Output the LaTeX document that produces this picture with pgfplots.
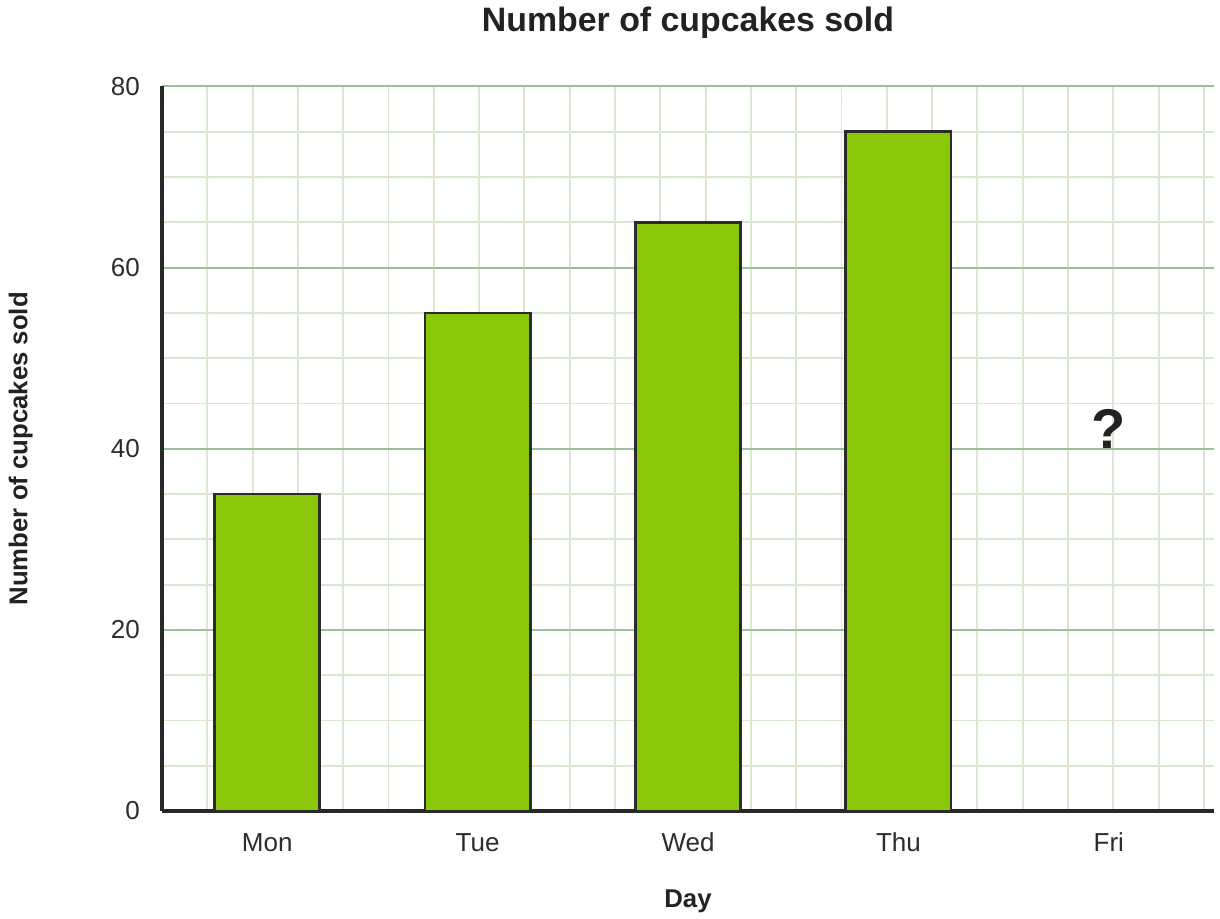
\documentclass[border=0pt]{standalone}
\usepackage{fontspec}
\setmainfont{Liberation Sans}
\usepackage{pgfplots}
\pgfplotsset{compat=1.18}
\definecolor{barfill}{RGB}{138,199,10}
\definecolor{bardark}{RGB}{43,43,43}
\definecolor{axisdark}{RGB}{40,40,40}
\definecolor{majgreen}{RGB}{155,192,155}
\definecolor{mingreen}{RGB}{214,232,207}
\definecolor{txt}{RGB}{45,45,45}
\definecolor{ttl}{RGB}{34,34,34}
\begin{document}
\begin{tikzpicture}
\useasboundingbox (-121.5pt,-80.25pt) rectangle (793.5pt,608.25pt);
\begin{axis}[
  at={(0pt,0pt)}, anchor=south west,
  scale only axis, width=789pt, height=543.375pt,
  xmin=-0.5, xmax=4.5, ymin=0, ymax=80,
  ytick={0,20,40,60,80}, minor y tick num=3,
  xtick={0,1,2,3,4}, xticklabels={Mon,Tue,Wed,Thu,Fri},
  minor xtick={-0.2847,-0.0694,0.1459,0.3612,0.5765,0.7918,1.0071,1.2224,1.4377,1.6530,1.8683,2.0836,2.2989,2.5142,2.7295,2.9448,3.1601,3.3754,3.5907,3.8060,4.0213,4.2366,4.4519},
  xmajorgrids=false, xminorgrids=true, ymajorgrids=true, yminorgrids=true,
  major grid style={color=majgreen, line width=1.5pt},
  minor grid style={color=mingreen, line width=1.4pt},
  axis x line*=bottom, axis y line*=left,
  axis line style={line width=3pt, color=axisdark},
  major tick length=0pt, minor tick length=0pt,
  tick label style={font=\fontsize{19.5pt}{22pt}\selectfont, text=txt, inner sep=0pt},
  xticklabel style={anchor=base, yshift=-30pt},
  yticklabel style={anchor=east, xshift=-16.5pt},
  /pgf/number format/assume math mode=true,
  title={Number of cupcakes sold},
  title style={at={(axis description cs:0.5,1.0643)}, anchor=base, font=\bfseries\fontsize{25.4pt}{28pt}\selectfont, text=ttl, inner sep=0pt},
  xlabel={Day},
  xlabel style={at={(axis description cs:0.5,-0.1325)}, anchor=base, font=\bfseries\fontsize{19.3pt}{22pt}\selectfont, text=ttl, inner sep=0pt},
  ylabel={Number of cupcakes sold},
  ylabel style={at={(axis description cs:-0.1280,0.5)}, anchor=base, rotate=0, font=\bfseries\fontsize{19.3pt}{22pt}\selectfont, text=ttl, inner sep=0pt},
  ybar, bar width=0.5,
]
\addplot[fill=barfill, draw=bardark, line width=2pt] coordinates {(0,35) (1,55) (2,65) (3,75)};
\node[anchor=base, font=\bfseries\fontsize{42pt}{44pt}\selectfont, text=ttl, inner sep=0pt] at (axis cs:4,40) {?};
\end{axis}
\end{tikzpicture}
\end{document}
